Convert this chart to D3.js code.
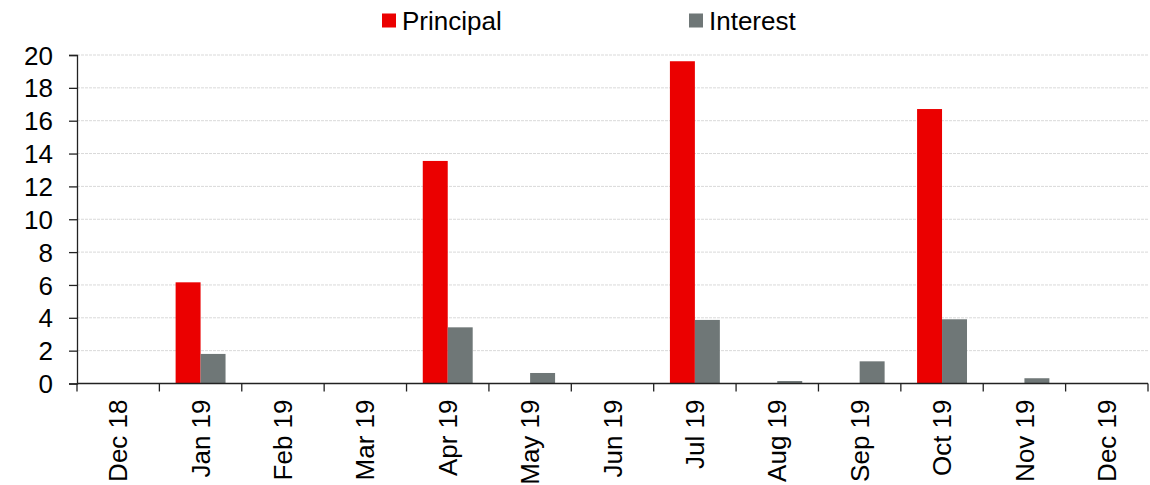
<!DOCTYPE html>
<html>
<head>
<meta charset="utf-8">
<script src="https://cdn.jsdelivr.net/npm/d3@7"></script>
<style>
  html, body { margin: 0; padding: 0; background: #fff; }
  svg text { font-family: "Liberation Sans", Arial, sans-serif; fill: #000; }
</style>
</head>
<body>
<svg id="chart" width="1150" height="485"></svg>
<script>
// Monthly payment schedule
const months = ["Dec 18", "Jan 19", "Feb 19", "Mar 19", "Apr 19", "May 19", "Jun 19",
                "Jul 19", "Aug 19", "Sep 19", "Oct 19", "Nov 19", "Dec 19"];
const principal = [0, 6.16, 0, 0, 13.55, 0, 0, 19.62, 0, 0, 16.71, 0, 0];
const interest  = [0, 1.80, 0, 0, 3.42, 0.64, 0, 3.87, 0.15, 1.35, 3.91, 0.32, 0];
const yTicks = [0, 2, 4, 6, 8, 10, 12, 14, 16, 18, 20];
const seriesNames = ["Principal", "Interest"];
const seriesColors = ["#eb0000", "#6f7777"];

const svg = d3.select("#chart");
const margin = { left: 77, right: 2, top: 55, bottom: 101.5 };
const W = 1150, H = 485;
const x0 = margin.left, x1 = W - margin.right;
const yTop = margin.top, yBottom = H - margin.bottom;
const fontSize = 26;

const x = d3.scaleBand().domain(months).range([x0, x1]).paddingInner(0).paddingOuter(0);
const xs = d3.scaleBand().domain(seriesNames).range([0, x.bandwidth()]).paddingInner(0).paddingOuter(0.65);
const y = d3.scaleLinear().domain([0, 20]).range([yBottom, yTop]);

// gridlines
svg.append("g")
  .selectAll("line")
  .data(yTicks.filter(d => d > 0))
  .join("line")
  .attr("x1", x0).attr("x2", x1)
  .attr("y1", d => y(d)).attr("y2", d => y(d))
  .attr("stroke", "#d9d9d9")
  .attr("stroke-width", 1)
  .attr("stroke-dasharray", "3,1");

// bars
const seriesData = [principal, interest];
seriesData.forEach((vals, si) => {
  svg.append("g")
    .selectAll("rect")
    .data(months.map((m, i) => ({ m, v: vals[i] })).filter(d => d.v > 0))
    .join("rect")
    .attr("x", d => x(d.m) + xs(seriesNames[si]))
    .attr("width", xs.bandwidth())
    .attr("y", d => y(d.v))
    .attr("height", d => y(0) - y(d.v))
    .attr("fill", seriesColors[si]);
});

// y axis
const yAxis = d3.axisLeft(y).tickValues(yTicks).tickSize(8).tickPadding(16).tickFormat(d3.format("d"));
const gy = svg.append("g").attr("transform", `translate(${x0},0)`).call(yAxis);
gy.select(".domain").attr("stroke", "#222").attr("stroke-width", 1.3);
gy.selectAll(".tick line").attr("stroke", "#222").attr("stroke-width", 1.3);
gy.selectAll(".tick text").attr("font-size", fontSize).attr("font-family", "Liberation Sans, Arial, sans-serif").attr("fill", "#000").attr("dy", "0.35em");

// x axis: baseline with ticks at band boundaries
const gx = svg.append("g");
gx.append("line")
  .attr("x1", x0).attr("x2", x1)
  .attr("y1", y(0)).attr("y2", y(0))
  .attr("stroke", "#222").attr("stroke-width", 1.3);
const boundaries = months.map(m => x(m)).concat([x1]);
gx.selectAll("line.tk")
  .data(boundaries)
  .join("line")
  .attr("class", "tk")
  .attr("x1", d => d).attr("x2", d => d)
  .attr("y1", y(0)).attr("y2", y(0) + 8)
  .attr("stroke", "#222").attr("stroke-width", 1.3);
gx.selectAll("text")
  .data(months)
  .join("text")
  .attr("transform", d => `translate(${x(d) + x.bandwidth() / 2},${y(0) + 16}) rotate(-90)`)
  .attr("text-anchor", "end")
  .attr("dy", "0.35em")
  .attr("font-size", fontSize)
  .text(d => d);

// legend
const legendItems = [
  { name: seriesNames[0], color: seriesColors[0], x: 382 },
  { name: seriesNames[1], color: seriesColors[1], x: 689 }
];
const lg = svg.append("g");
legendItems.forEach(it => {
  lg.append("rect").attr("x", it.x).attr("y", 13.5).attr("width", 14).attr("height", 14).attr("fill", it.color);
  lg.append("text").attr("x", it.x + 20).attr("y", 29.5).attr("font-size", fontSize).text(it.name);
});
</script>
</body>
</html>
